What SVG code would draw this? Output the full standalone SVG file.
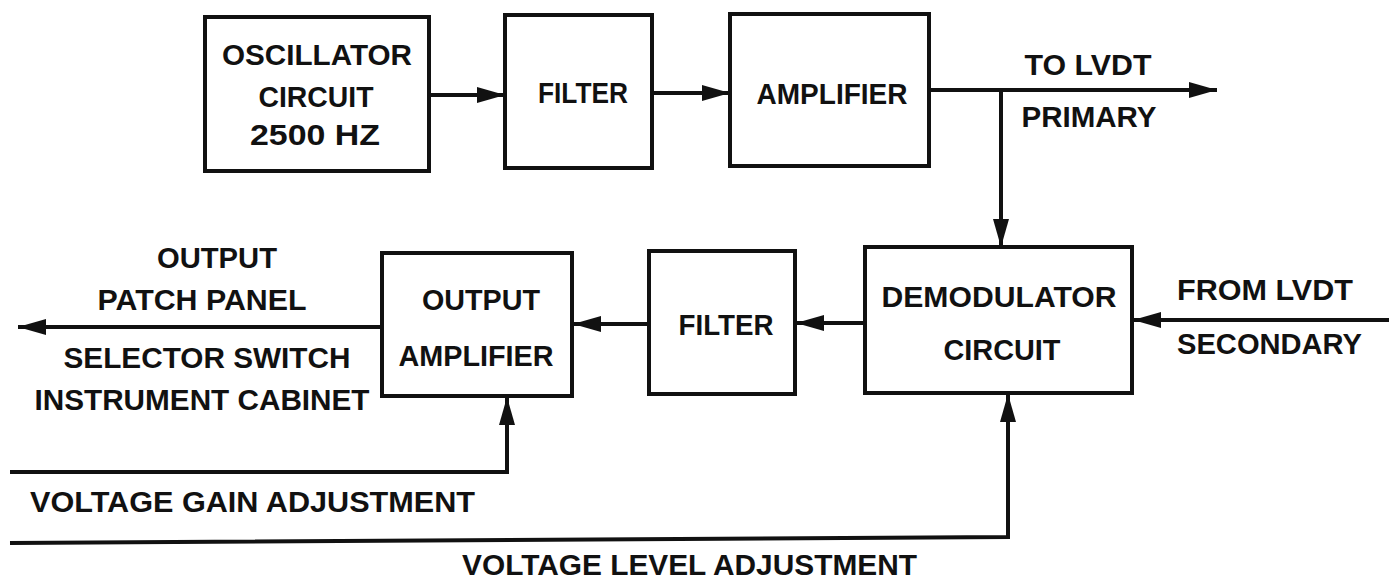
<svg xmlns="http://www.w3.org/2000/svg" width="1389" height="583" viewBox="0 0 1389 583">
<defs>
<style>
.box{fill:#fff;stroke:#111;stroke-width:4}
.ln{fill:none;stroke:#111;stroke-width:4}
.t{font-family:"Liberation Sans",Arial,sans-serif;font-weight:bold;font-size:29px;fill:#111}
.c{text-anchor:middle}
</style>
<marker id="ah" markerUnits="userSpaceOnUse" markerWidth="30" markerHeight="18" refX="28" refY="8" orient="auto" viewBox="0 0 30 16">
<path d="M0,0 L28,8 L0,16 Z" fill="#111"/>
</marker>
</defs>
<rect width="1389" height="583" fill="#fff"/>
<g id="connectors">
<line class="ln" x1="429" y1="95" x2="505" y2="95" marker-end="url(#ah)"/>
<line class="ln" x1="652" y1="93" x2="730" y2="93" marker-end="url(#ah)"/>
<line class="ln" x1="929" y1="90" x2="1217" y2="90" marker-end="url(#ah)"/>
<line class="ln" x1="1001" y1="90" x2="1001" y2="247" marker-end="url(#ah)"/>
<line class="ln" x1="1389" y1="320" x2="1133" y2="320" marker-end="url(#ah)"/>
<line class="ln" x1="865" y1="323" x2="796" y2="323" marker-end="url(#ah)"/>
<line class="ln" x1="649" y1="324" x2="573" y2="324" marker-end="url(#ah)"/>
<line class="ln" x1="382" y1="327" x2="18" y2="327" marker-end="url(#ah)"/>
<polyline class="ln" points="10,472 507,472 507,397" marker-end="url(#ah)"/>
<polyline class="ln" points="10,543 1008,537 1008,394" marker-end="url(#ah)"/>
</g>
<g id="oscillator">
<rect class="box" x="205" y="17" width="224" height="154"/>
<text class="t c" x="317" y="65" textLength="190" lengthAdjust="spacingAndGlyphs">OSCILLATOR</text>
<text class="t c" x="316" y="107" textLength="115" lengthAdjust="spacingAndGlyphs">CIRCUIT</text>
<text class="t c" x="315" y="145" textLength="130" lengthAdjust="spacingAndGlyphs">2500 HZ</text>
</g>
<g id="filter1">
<rect class="box" x="505" y="15" width="147" height="153"/>
<text class="t c" x="583" y="103" textLength="90" lengthAdjust="spacingAndGlyphs">FILTER</text>
</g>
<g id="amplifier">
<rect class="box" x="730" y="14" width="199" height="152"/>
<text class="t c" x="832" y="104" textLength="151" lengthAdjust="spacingAndGlyphs">AMPLIFIER</text>
</g>
<g id="to-lvdt">
<text class="t c" x="1088" y="75" textLength="127" lengthAdjust="spacingAndGlyphs">TO LVDT</text>
<text class="t c" x="1089" y="127" textLength="135" lengthAdjust="spacingAndGlyphs">PRIMARY</text>
</g>
<g id="demodulator">
<rect class="box" x="865" y="247" width="267" height="146"/>
<text class="t c" x="999" y="307" textLength="235" lengthAdjust="spacingAndGlyphs">DEMODULATOR</text>
<text class="t c" x="1002" y="360" textLength="117" lengthAdjust="spacingAndGlyphs">CIRCUIT</text>
</g>
<g id="from-lvdt">
<text class="t" x="1177" y="300" textLength="176" lengthAdjust="spacingAndGlyphs">FROM LVDT</text>
<text class="t" x="1177" y="354" textLength="185" lengthAdjust="spacingAndGlyphs">SECONDARY</text>
</g>
<g id="filter2">
<rect class="box" x="649" y="251" width="146" height="143"/>
<text class="t c" x="726" y="335" textLength="95" lengthAdjust="spacingAndGlyphs">FILTER</text>
</g>
<g id="output-amplifier">
<rect class="box" x="382" y="253" width="190" height="143"/>
<text class="t c" x="481" y="310" textLength="118" lengthAdjust="spacingAndGlyphs">OUTPUT</text>
<text class="t c" x="476" y="366" textLength="155" lengthAdjust="spacingAndGlyphs">AMPLIFIER</text>
</g>
<g id="output-labels">
<text class="t c" x="217" y="268" textLength="120" lengthAdjust="spacingAndGlyphs">OUTPUT</text>
<text class="t c" x="202" y="310" textLength="209" lengthAdjust="spacingAndGlyphs">PATCH PANEL</text>
<text class="t c" x="207" y="368" textLength="287" lengthAdjust="spacingAndGlyphs">SELECTOR SWITCH</text>
<text class="t c" x="202" y="410" textLength="335" lengthAdjust="spacingAndGlyphs">INSTRUMENT CABINET</text>
</g>
<g id="gain-label">
<text class="t" x="30" y="512" textLength="445" lengthAdjust="spacingAndGlyphs">VOLTAGE GAIN ADJUSTMENT</text>
</g>
<g id="level-label">
<text class="t" x="462" y="575" textLength="455" lengthAdjust="spacingAndGlyphs">VOLTAGE LEVEL ADJUSTMENT</text>
</g>
</svg>
